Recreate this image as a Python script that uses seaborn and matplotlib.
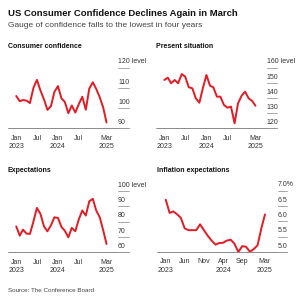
import pandas as pd
import matplotlib.pyplot as plt
import seaborn as sns

# -----------------------------
# Monthly data, Jan 2023 - Mar 2025
# -----------------------------
months = pd.date_range('2023-01-01', '2025-03-01', freq='MS')

consumer_confidence = [106.0, 103.4, 104.0, 103.7, 102.5, 110.1, 114.0, 108.7, 104.3,
                       99.1, 101.0, 108.0, 110.9, 104.8, 103.1, 97.5, 101.3, 97.8,
                       101.9, 105.6, 99.2, 109.6, 112.8, 109.5, 105.3, 100.1, 92.9]

present_situation = [151.9, 153.4, 149.7, 151.9, 149.7, 155.8, 154.1, 147.1, 146.4,
                     139.8, 136.9, 146.4, 155.2, 148.1, 147.1, 140.9, 140.9, 135.4,
                     133.6, 134.3, 123.3, 136.5, 141.5, 144.2, 139.8, 138.0, 134.9]

expectations = [76.9, 70.9, 74.8, 72.2, 72.0, 80.2, 88.9, 85.0, 76.9,
                73.7, 77.6, 82.8, 82.4, 76.5, 74.1, 69.8, 75.9, 73.7,
                81.3, 87.2, 83.9, 93.2, 94.8, 87.2, 82.8, 74.1, 65.5]

inflation_expectations = [6.70, 6.27, 6.32, 6.23, 6.11, 5.77, 5.71, 5.71, 5.71,
                          5.90, 5.71, 5.53, 5.37, 5.24, 5.29, 5.30, 5.37, 5.40,
                          5.27, 5.00, 5.19, 5.17, 5.01, 5.09, 5.22, 5.78, 6.22]

# tick labels
ticks_main = pd.to_datetime(['2023-01-01', '2023-07-01', '2024-01-01', '2024-07-01', '2025-03-01'])
labels_main = ['Jan\n2023', 'Jul', 'Jan\n2024', 'Jul', 'Mar\n2025']
ticks_infl = pd.to_datetime(['2023-01-01', '2023-06-01', '2023-11-01', '2024-04-01',
                             '2024-09-01', '2025-03-01'])
labels_infl = ['Jan\n2023', 'Jun', 'Nov', 'Apr\n2024', 'Sep', 'Mar\n2025']

# -----------------------------
# Style
# -----------------------------
sns.set_style('white')
plt.rcParams['font.family'] = ['Liberation Sans', 'DejaVu Sans']

RED = '#e31b23'
TXT = '#333333'
W = H = 300

fig = plt.figure(figsize=(3, 3), dpi=100)


def draw_panel(box, title, title_y, values, yticks, ylabels, xticks, xlabels, under):
    # box = (left, right, top, bottom) in pixels, under = (start, end) of label underline
    l, r, t, b = box
    ax = fig.add_axes([l / W, 1 - b / H, (r - l) / W, (b - t) / H])
    sns.lineplot(x=months, y=values, ax=ax, color=RED, linewidth=1.4)
    ax.set_xlim(months[0] - pd.Timedelta(days=72), months[0] + pd.Timedelta(days=838))
    ax.set_ylim(yticks[0], yticks[-1])
    for s in ax.spines.values():
        s.set_visible(False)
    ax.set_xlabel('')
    ax.set_ylabel('')
    ax.set_yticks([])
    ax.set_xticks(xticks)
    ax.set_xticklabels(xlabels, fontsize=5, color=TXT, linespacing=1.35)
    ax.tick_params(axis='x', length=2, width=0.6, color='#777777', pad=2.5, direction='out')

    w = r - l
    x0, x1 = (under[0] - l) / w, (under[1] - l) / w
    ax.axhline(yticks[0], 0, x1, color='#777777', lw=0.6, clip_on=False)
    for v, lab in zip(yticks, ylabels):
        ax.axhline(v, x0, x1, color='#999999', lw=0.6, clip_on=False)
        ax.annotate(lab, xy=(1, v), xycoords=('axes fraction', 'data'),
                    xytext=((under[0] - r) * 0.72, 1.6), textcoords='offset points',
                    ha='left', va='bottom', fontsize=5, color=TXT)
    fig.text(l / W, 1 - title_y / H, title, fontsize=5, fontweight='bold',
             color='#111111', va='center')
    return ax


draw_panel((8, 112, 67.7, 128.3), 'Consumer confidence', 46.7, consumer_confidence,
           [90, 100, 110, 120], ['90', '100', '110', '120 level'],
           ticks_main, labels_main, (118, 129))
draw_panel((156, 261, 67.7, 128.3), 'Present situation', 46.7, present_situation,
           [120, 130, 140, 150, 160], ['120', '130', '140', '150', '160 level'],
           ticks_main, labels_main, (266.7, 277.3))
draw_panel((8, 112, 190.8, 252.4), 'Expectations', 170.7, expectations,
           [60, 70, 80, 90, 100], ['60', '70', '80', '90', '100 level'],
           ticks_main, labels_main, (118, 129))
draw_panel((156.7, 271, 190.5, 252), 'Inflation expectations', 170.7, inflation_expectations,
           [5.0, 5.5, 6.0, 6.5, 7.0], ['5.0', '5.5', '6.0', '6.5', '7.0%'],
           ticks_infl, labels_infl, (277.5, 287))

fig.text(8 / W, 1 - 14 / H, 'US Consumer Confidence Declines Again in March',
         fontsize=6.8, fontweight='bold', color='#111111', va='center')
fig.text(8 / W, 1 - 25.5 / H, 'Gauge of confidence falls to the lowest in four years',
         fontsize=6.0, color='#444444', va='center')
fig.text(8 / W, 1 - 290 / H, 'Source: The Conference Board',
         fontsize=4.5, color='#444444', va='center')

fig.savefig('out.png', dpi=100)
